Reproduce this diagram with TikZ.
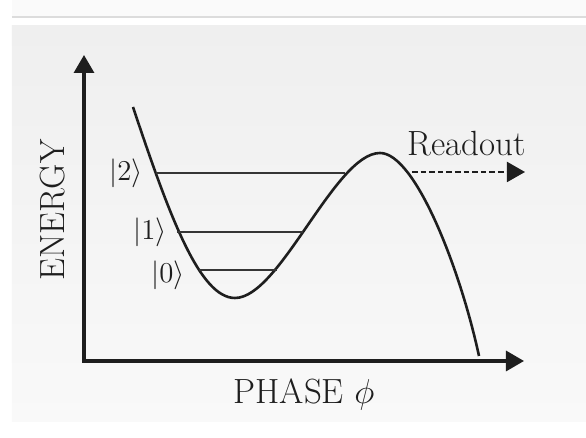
\documentclass[tikz,border=0pt]{standalone}
\usetikzlibrary{arrows.meta}
\definecolor{panelTop}{HTML}{EFEFEF}
\definecolor{panelBot}{HTML}{F9F9F9}
\definecolor{bandFill}{HTML}{FAFAFA}
\definecolor{ruleGray}{HTML}{DCDCDC}
\definecolor{ink}{HTML}{1E1E1E}
\tikzset{
  >={Triangle[length=9pt,width=10pt]},
  axis/.style={line width=1.6pt, draw=ink, <->},
  potential/.style={line width=1.3pt, draw=ink},
  level/.style={line width=1.1pt, draw=ink!90},
  readout/.style={line width=1pt, draw=ink, dash pattern=on 2.8pt off 1.5pt, ->},
  axislabel/.style={font=\fontsize{17.5}{20}\selectfont, text=ink, inner sep=0pt},
  ketlabel/.style={font=\fontsize{14}{17}\selectfont, text=ink, inner sep=0pt, anchor=east},
}
\begin{document}
\begin{tikzpicture}[x=0.5pt, y=0.5pt]
  \useasboundingbox (0,0) rectangle (586,438);
  \fill[white] (0,0) rectangle (586,438);
  \fill[bandFill] (12,422) rectangle (586,438);
  \draw[ruleGray, line width=1pt] (12,421) -- (586,421);
  \shade[top color=panelTop, bottom color=panelBot] (12,16) rectangle (586,412);

  \coordinate (O) at (84,77);
  \coordinate (ytip) at (84,383);
  \coordinate (xtip) at (524,77);
  \draw[axis] (ytip) -- (O) -- (xtip);

  \coordinate (wall) at (133,331);
  \coordinate (well) at (235,140);
  \coordinate (barrier) at (380,285);
  \coordinate (drop) at (479,82);
  \draw[potential] (wall) .. controls (170,220) and (200,140) .. (well)
    .. controls (280,140) and (335,285) .. (barrier)
    .. controls (415,285) and (460,170) .. (drop);

  \foreach \n/\y/\xl/\xr/\lx/\ly in {0/168/199/277/185/163, 1/206/177/303/167/206, 2/265/156/345/143/265} {
    \coordinate (L\n) at (\xl,\y);
    \coordinate (R\n) at (\xr,\y);
    \draw[level] (L\n) -- (R\n);
    \node[ketlabel] (ket\n) at (\lx,\ly) {$|\n\rangle$};
  }

  \coordinate (rstart) at (412,266);
  \coordinate (rend) at (525,266);
  \draw[readout] (rstart) -- (rend);
  \node[axislabel] (readtext) at (467,294) {Readout};

  \node[axislabel, rotate=90] (energy) at (53,228) {ENERGY};
  \node[axislabel] (phase) at (304,44) {PHASE $\phi$};
\end{tikzpicture}
\end{document}
